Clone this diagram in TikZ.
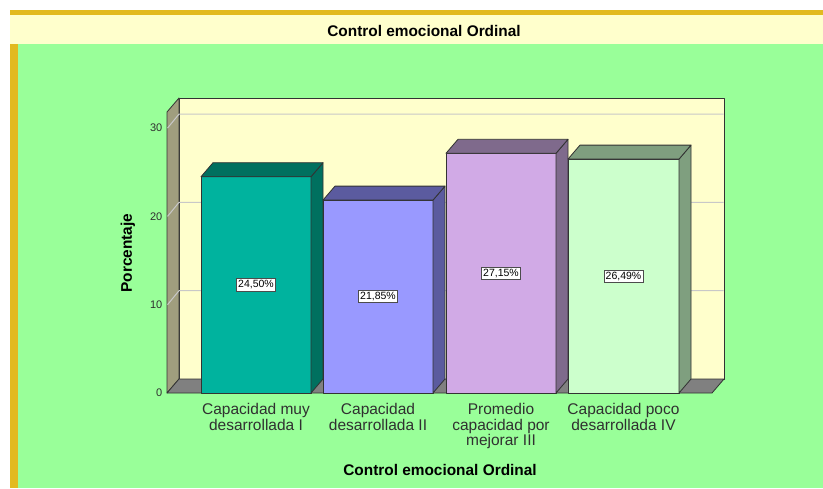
\documentclass[tikz,border=0pt]{standalone}
\usepackage{fontspec}
\setmainfont{Liberation Sans}
\definecolor{gold}{HTML}{E2BA1F}
\definecolor{cream}{HTML}{FFFFCC}
\definecolor{fondo}{HTML}{99FF99}
\definecolor{pared}{HTML}{A09E7E}
\definecolor{suelo}{HTML}{808080}
\definecolor{rejilla}{HTML}{C8C8C8}
\definecolor{tealA}{HTML}{00B39E}
\definecolor{tealB}{HTML}{00705F}
\definecolor{azulA}{HTML}{9999FF}
\definecolor{azulB}{HTML}{5B5B9F}
\definecolor{lilaA}{HTML}{D1AAE6}
\definecolor{lilaB}{HTML}{7F6A8C}
\definecolor{verdeA}{HTML}{CCFFCC}
\definecolor{verdeB}{HTML}{7F9F7F}
\definecolor{texto}{HTML}{303030}
\tikzset{
    barline/.style={draw=black!80, line width=0.8pt, line join=round},
    valbox/.style={draw=black!70, fill=white, inner sep=1.8pt, font=\fontsize{10.5}{11}\selectfont},
    catlabel/.style={anchor=north, align=center, text=texto, font=\fontsize{15.5}{15.5}\selectfont},
    ticklabel/.style={anchor=east, inner sep=0pt, text=texto, font=\fontsize{11}{12}\selectfont},
    axtitle/.style={font=\bfseries\fontsize{15.4}{17}\selectfont}
}

\begin{document}
\begin{tikzpicture}[x=1pt, y=-1pt]
    \useasboundingbox (0,0) rectangle (823,488);
    \fill[gold] (10,10) rectangle (823,15);
    \fill[cream] (10,15) rectangle (823,44);
    \fill[gold] (10,44) rectangle (17.5,488);
    \fill[fondo] (17.5,44) rectangle (823,488);
    \node[axtitle] (title) at (424,31) {Control emocional Ordinal};

    % walls and floor
    \draw[fill=cream, barline] (179,98) rectangle (724,379);
    \draw[fill=pared, barline] (167,112) -- (179,98) -- (179,379) -- (167,393) -- cycle;
    \draw[fill=suelo, barline] (167,393) -- (179,379) -- (724,379) -- (712,393) -- cycle;
    \draw[rejilla, line width=1pt] (167.5,304.7) -- (179,290.7) -- (723.5,290.7);
    \draw[rejilla, line width=1pt] (167.5,216.4) -- (179,202.4) -- (723.5,202.4);
    \draw[rejilla, line width=1pt] (167.5,128.1) -- (179,114.1) -- (723.5,114.1);
    \node[ticklabel] (t0) at (162.5,393) {0};
    \node[ticklabel] (t10) at (162.5,304.7) {10};
    \node[ticklabel] (t20) at (162.5,216.4) {20};
    \node[ticklabel] (t30) at (162.5,128.1) {30};

    % bar I
    \draw[fill=tealA, barline] (201,176.7) rectangle (311,393);
    \draw[fill=tealB, barline] (311,176.7) -- (323,162.7) -- (323,379) -- (311,393) -- cycle;
    \draw[fill=tealB, barline] (201,176.7) -- (213,162.7) -- (323,162.7) -- (311,176.7) -- cycle;
    \node[valbox] (v1) at (256,284.8) {24,50\%};
    % bar II
    \draw[fill=azulA, barline] (323,200.1) rectangle (433,393);
    \draw[fill=azulB, barline] (433,200.1) -- (445,186.1) -- (445,379) -- (433,393) -- cycle;
    \draw[fill=azulB, barline] (323,200.1) -- (335,186.1) -- (445,186.1) -- (433,200.1) -- cycle;
    \node[valbox] (v2) at (378,296.5) {21,85\%};
    % bar III
    \draw[fill=lilaA, barline] (446,153.3) rectangle (556,393);
    \draw[fill=lilaB, barline] (556,153.3) -- (568,139.3) -- (568,379) -- (556,393) -- cycle;
    \draw[fill=lilaB, barline] (446,153.3) -- (458,139.3) -- (568,139.3) -- (556,153.3) -- cycle;
    \node[valbox] (v3) at (501,273.2) {27,15\%};
    % bar IV
    \draw[fill=verdeA, barline] (568,159.1) rectangle (679,393);
    \draw[fill=verdeB, barline] (679,159.1) -- (691,145.1) -- (691,379) -- (679,393) -- cycle;
    \draw[fill=verdeB, barline] (568,159.1) -- (580,145.1) -- (691,145.1) -- (679,159.1) -- cycle;
    \node[valbox] (v4) at (623.5,276.1) {26,49\%};

    % labels
    \node[catlabel] (c1) at (256,400) {Capacidad muy\\desarrollada I};
    \node[catlabel] (c2) at (378,400) {Capacidad\\desarrollada II};
    \node[catlabel] (c3) at (501,400) {Promedio\\capacidad por\\mejorar III};
    \node[catlabel] (c4) at (623.5,400) {Capacidad poco\\desarrollada IV};
    \node[axtitle, rotate=90] (ytitle) at (128,253) {Porcentaje};
    \node[axtitle] (xtitle) at (440,470) {Control emocional Ordinal};
\end{tikzpicture}
\end{document}
